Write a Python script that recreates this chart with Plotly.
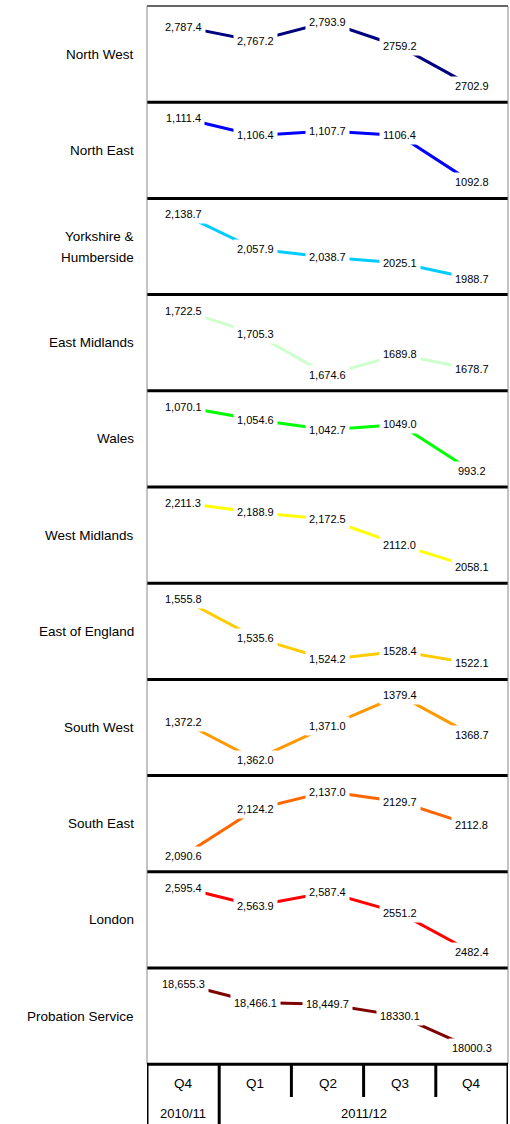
import plotly.graph_objects as go

# ---- data -----------------------------------------------------------------
quarters = ["Q4", "Q1", "Q2", "Q3", "Q4"]
years = ["2010/11", "2011/12"]
year_first_quarter = [0, 1]          # index of the first quarter in each year
label_uses_comma = [True, True, True, False, False]

regions = [
    "North West", "North East", "Yorkshire &<br>Humberside", "East Midlands",
    "Wales", "West Midlands", "East of England", "South West", "South East",
    "London", "Probation Service",
]

north_west = [2787.4, 2767.2, 2793.9, 2759.2, 2702.9]
north_east = [1111.4, 1106.4, 1107.7, 1106.4, 1092.8]
yorkshire_humberside = [2138.7, 2057.9, 2038.7, 2025.1, 1988.7]
east_midlands = [1722.5, 1705.3, 1674.6, 1689.8, 1678.7]
wales = [1070.1, 1054.6, 1042.7, 1049.0, 993.2]
west_midlands = [2211.3, 2188.9, 2172.5, 2112.0, 2058.1]
east_of_england = [1555.8, 1535.6, 1524.2, 1528.4, 1522.1]
south_west = [1372.2, 1362.0, 1371.0, 1379.4, 1368.7]
south_east = [2090.6, 2124.2, 2137.0, 2129.7, 2112.8]
london = [2595.4, 2563.9, 2587.4, 2551.2, 2482.4]
probation_service = [18655.3, 18466.1, 18449.7, 18330.1, 18000.3]

series = [
    north_west, north_east, yorkshire_humberside, east_midlands, wales,
    west_midlands, east_of_england, south_west, south_east, london,
    probation_service,
]

colors = [
    "#000080", "#0000FF", "#00CCFF", "#CCFFCC", "#00FF00", "#FFFF00",
    "#FFCC00", "#FF9900", "#FF6600", "#FF0000", "#800000",
]

# ---- layout geometry (pixels) ----------------------------------------------
W, H = 510, 1124
LEFT, RIGHT = 147, 508
TOP = 6
PANEL_H = 96.2
N = len(series)
TABLE_TOP = TOP + PANEL_H * N
Q_ROW_BOTTOM = 1097
TEXT_FONT = "Liberation Sans, Arial, sans-serif"


def py(p):
    """pixel row -> paper y"""
    return 1 - p / H


def px(p):
    """pixel column -> paper x"""
    return p / W


fig = go.Figure()
layout = dict(
    width=W, height=H,
    margin=dict(l=0, r=0, t=0, b=0),
    paper_bgcolor="white", plot_bgcolor="white",
    showlegend=False,
    xaxis=dict(domain=[px(LEFT), px(RIGHT)], range=[-0.5, 4.5],
               visible=False, fixedrange=True),
)

annotations = []
shapes = []

for k, (name, vals, col) in enumerate(zip(regions, series, colors)):
    top = TOP + PANEL_H * k
    bot = top + PANEL_H
    yname = "y" if k == 0 else f"y{k + 1}"
    ykey = "yaxis" if k == 0 else f"yaxis{k + 1}"
    lo, hi = min(vals), max(vals)
    pad = (hi - lo) * 0.25
    layout[ykey] = dict(domain=[py(bot), py(top)], range=[lo - pad, hi + pad],
                        visible=False, fixedrange=True, anchor="x")

    fig.add_trace(go.Scatter(
        x=list(range(len(quarters))), y=vals, xaxis="x", yaxis=yname,
        mode="lines", line=dict(color=col, width=3), hoverinfo="skip",
    ))

    # value labels, boxed in white so the line breaks around them
    for i, v in enumerate(vals):
        txt = f"{v:,.1f}" if label_uses_comma[i] else f"{v:.1f}"
        annotations.append(dict(
            x=i, y=v, xref="x", yref=yname, text=txt, showarrow=False,
            bgcolor="white", borderpad=3,
            font=dict(family=TEXT_FONT, size=11, color="#000000"),
        ))

    # region name on the left
    lines = name.split("<br>")
    mid = (top + bot) / 2
    step = 21
    start = mid - step * (len(lines) - 1) / 2
    for j, ln in enumerate(lines):
        annotations.append(dict(
            x=px(136), y=py(start + j * step), xref="paper", yref="paper",
            xanchor="right", yanchor="middle", text=ln, showarrow=False,
            font=dict(family=TEXT_FONT, size=13.5, color="#000000"),
        ))

    # thick separator above each panel (except the first)
    if k > 0:
        shapes.append(dict(type="line", xref="paper", yref="paper",
                           x0=px(LEFT), x1=px(RIGHT), y0=py(top), y1=py(top),
                           line=dict(color="#000000", width=3)))

# outer frame of the panel stack
shapes.append(dict(type="line", xref="paper", yref="paper",
                   x0=px(LEFT), x1=px(RIGHT), y0=py(TOP), y1=py(TOP),
                   line=dict(color="#666666", width=2)))
for xx in (LEFT, RIGHT):
    shapes.append(dict(type="line", xref="paper", yref="paper",
                       x0=px(xx), x1=px(xx), y0=py(TOP), y1=py(TABLE_TOP),
                       line=dict(color="#888888", width=1)))

# category table under the panels
shapes.append(dict(type="line", xref="paper", yref="paper",
                   x0=px(LEFT), x1=px(RIGHT), y0=py(TABLE_TOP), y1=py(TABLE_TOP),
                   line=dict(color="#000000", width=3)))
for xb in (-0.5, 4.5):
    shapes.append(dict(type="line", xref="x", yref="paper",
                       x0=xb, x1=xb, y0=py(TABLE_TOP), y1=py(H),
                       line=dict(color="#000000", width=3)))
for i in range(len(quarters) - 1):
    xb = i + 0.5
    full = (i + 1) in year_first_quarter
    shapes.append(dict(type="line", xref="x", yref="paper",
                       x0=xb, x1=xb, y0=py(TABLE_TOP),
                       y1=py(H if full else Q_ROW_BOTTOM),
                       line=dict(color="#000000", width=3)))

for i, q in enumerate(quarters):
    annotations.append(dict(
        x=i, y=py(1083), xref="x", yref="paper", text=q, showarrow=False,
        yanchor="middle", font=dict(family=TEXT_FONT, size=13.5, color="#000000"),
    ))

bounds = year_first_quarter + [len(quarters)]
for j, yr in enumerate(years):
    xc = (bounds[j] + bounds[j + 1] - 1) / 2
    annotations.append(dict(
        x=xc, y=py(1113), xref="x", yref="paper", text=yr, showarrow=False,
        yanchor="middle", font=dict(family=TEXT_FONT, size=13, color="#000000"),
    ))

layout["annotations"] = annotations
layout["shapes"] = shapes
fig.update_layout(**layout)

fig.write_html("out.html", config={"displayModeBar": False})
